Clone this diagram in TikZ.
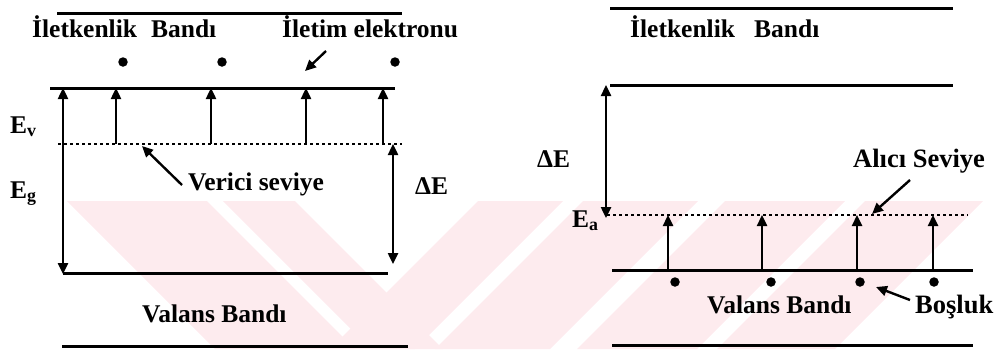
\documentclass[tikz,border=0pt]{standalone}
\usepackage{fontspec}
\setmainfont{Liberation Serif}
\usetikzlibrary{arrows.meta}
\definecolor{wm}{RGB}{253,235,238}
\begin{document}
\begin{tikzpicture}[x=1pt,y=-1pt,
 band/.style={line width=3pt},
 lvl/.style={line width=1.6pt, dash pattern=on 3pt off 3pt},
 arr/.style={line width=2.4pt,-{Triangle[length=11pt,width=10pt]}},
 darr/.style={line width=2.4pt,{Triangle[length=11pt,width=10pt]}-{Triangle[length=11pt,width=10pt]}},
 lbl/.style={inner sep=0pt, anchor=base west, font=\bfseries\fontsize{25.5}{28}\selectfont},
 lblw/.style={lbl, font=\bfseries\fontsize{26.5}{29}\selectfont},
 edot/.style={circle, fill, inner sep=0pt, minimum size=9.5pt}]
\useasboundingbox (0,0) rectangle (1005,349);
% watermark
\begin{scope}
\clip (0,201) rectangle (1005,349);
\fill[wm] (67,201) -- (207,201) -- (355,349) -- (215,349) -- cycle;
\fill[wm] (223,201) -- (295,201) -- (443,349) -- (371,349) -- cycle;
\fill[wm] (478,201) -- (563,201) -- (415,349) -- (330,349) -- cycle;
\fill[wm] (583,201) -- (698,201) -- (550,349) -- (435,349) -- cycle;
\fill[wm] (725,201) -- (845,201) -- (697,349) -- (577,349) -- cycle;
\fill[wm] (865,201) -- (983,201) -- (835,349) -- (717,349) -- cycle;
\end{scope}

% ---------- left diagram ----------
\draw[band] (57,13) -- (402,13);
\draw[band] (50,88) -- (395,88);
\draw[lvl] (58,144) -- (402,144);
\draw[band] (63,273) -- (388,273);
\draw[band] (62,346) -- (408,346);

\node[lbl] (lcb) at (32,37) {İletkenlik\hspace{0.55em}Bandı};
\node[lbl] (lie) at (282,37) {İletim elektronu};
\node[lbl] (lev) at (10,133) {E\textsubscript{v}};
\node[lbl] (leg) at (10,198) {E\textsubscript{g}};
\node[lbl] (lvs) at (188,190) {Verici seviye};
\node[lbl] (lde) at (415,194) {ΔE};
\node[lbl] (lvb) at (142,322) {Valans Bandı};

\node[edot] (d1) at (123,62) {};
\node[edot] (d2) at (222,62) {};
\node[edot] (d3) at (395,62) {};

\coordinate (gT) at (63,88);  \coordinate (gB) at (63,274);
\draw[darr] (gT) -- (gB);
\foreach \x [count=\i] in {116,211,306,383}{
  \coordinate (s\i) at (\x,144); \coordinate (t\i) at (\x,88);
  \draw[arr] (s\i) -- (t\i);
}
\coordinate (dT) at (393,144); \coordinate (dB) at (393,264);
\draw[darr] (dT) -- (dB);
\coordinate (ieA) at (326,51); \coordinate (ieB) at (305,71);
\draw[arr] (ieA) -- (ieB);
\coordinate (vsA) at (182,185); \coordinate (vsB) at (142,146);
\draw[arr] (vsA) -- (vsB);

% ---------- right diagram ----------
\draw[band] (610,8) -- (953,8);
\draw[band] (610,85) -- (953,85);
\draw[lvl] (607,215) -- (968,215);
\draw[band] (612,270) -- (973,270);
\draw[band] (612,345) -- (973,345);

\node[lbl] (rcb) at (630,37) {İletkenlik\hspace{0.75em}Bandı};
\node[lbl] (rde) at (537,167) {ΔE};
\node[lblw] (ras) at (853,167) {Alıcı Seviye};
\node[lbl] (rea) at (572,227) {E\textsubscript{a}};
\node[lbl] (rvb) at (707,313) {Valans Bandı};
\node[lblw] (rbo) at (915,313) {Boşluk};

\coordinate (aT) at (606,85); \coordinate (aB) at (606,218);
\draw[darr] (aT) -- (aB);
\foreach \x [count=\i] in {668,762,857,933}{
  \coordinate (u\i) at (\x,270); \coordinate (v\i) at (\x,215);
  \draw[arr] (u\i) -- (v\i);
}
\node[edot] (h1) at (675,282) {};
\node[edot] (h2) at (771,282) {};
\node[edot] (h3) at (860,282) {};
\node[edot] (h4) at (934,282) {};
\coordinate (asA) at (910,180); \coordinate (asB) at (872,214);
\draw[arr] (asA) -- (asB);
\coordinate (boA) at (910,300); \coordinate (boB) at (876,287);
\draw[arr] (boA) -- (boB);
\end{tikzpicture}
\end{document}
